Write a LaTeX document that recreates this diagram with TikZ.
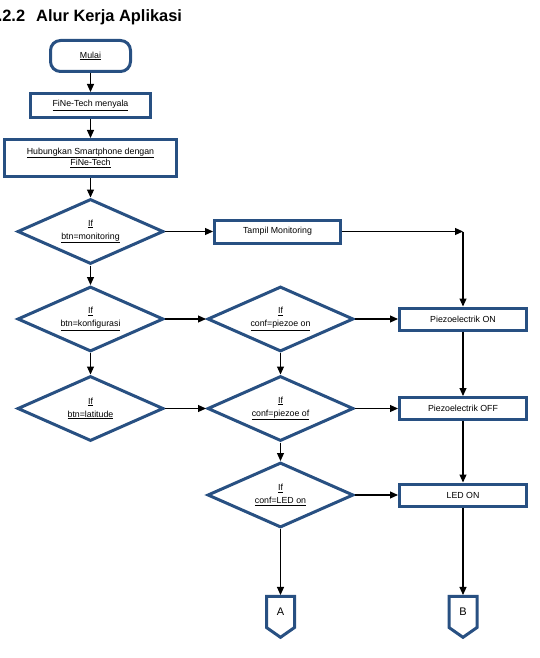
\documentclass[tikz,border=0pt]{standalone}
\usepackage{fontspec}
\setmainfont{Liberation Sans}
\usepackage{tikz}
\usetikzlibrary{positioning,arrows.meta,shapes.geometric,shapes.symbols}
\definecolor{flowblue}{RGB}{40,80,130}

\begin{document}
\begin{tikzpicture}[x=1pt, y=-1pt,
    boxline/.style={draw=flowblue, line width=3pt, fill=white, inner sep=2pt, align=center, font=\fontsize{8.8}{11.5}\selectfont},
    startnode/.style={boxline, rounded corners=10pt, minimum width=80pt, minimum height=31pt},
    procnode/.style={boxline, minimum height=22pt},
    decnode/.style={boxline, diamond, aspect=2.3, inner sep=0pt, minimum width=146pt, minimum height=65pt, font=\fontsize{8.8}{13}\selectfont},
    pagenode/.style={boxline, signal, signal to=south, signal from=nowhere, signal pointer angle=110, minimum width=28pt, minimum height=35pt, font=\fontsize{11}{13}\selectfont},
    flowline/.style={-{Triangle[length=8pt,width=7pt]}, line width=1.1pt, draw=black}
    ]
        \useasboundingbox (0,0) rectangle (539,658);
        \clip (0,0) rectangle (539,658);

        %Title
        \node[anchor=base west, inner sep=0pt, font=\fontsize{16.4}{20}\selectfont\bfseries]
            (judul) at (-11.5,22) {2.2.2\hspace{11pt}Alur Kerja Aplikasi};

        %Nodes
        \node[startnode]
            (mulai)   at (90.5,56)    {\underline{Mulai}};
        \node[procnode, minimum width=120pt, minimum height=24pt]
            (nyala)   at (90.5,105.5) {\underline{FiNe-Tech menyala}};
        \node[procnode, minimum width=172pt, minimum height=37pt]
            (hubung)  at (90.5,158)   {\underline{Hubungkan Smartphone dengan}\\\underline{FiNe-Tech}};
        \node[decnode]
            (ifmon)   at (90.5,231.5) {\underline{If}\\\underline{btn=monitoring}};
        \node[procnode, minimum width=126pt, minimum height=23pt]
            (tampil)  at (277.5,231.5) {Tampil Monitoring};
        \node[decnode]
            (ifkonf)  at (90.5,319)   {\underline{If}\\\underline{btn=konfigurasi}};
        \node[decnode]
            (iflat)   at (90.5,408.5) {\underline{If}\\\underline{btn=latitude}};
        \node[decnode]
            (ifpon)   at (280.5,319)  {\underline{If}\\\underline{conf=piezoe on}};
        \node[decnode]
            (ifpof)   at (280.5,408.5) {\underline{If}\\\underline{conf=piezoe of}};
        \node[decnode]
            (ifled)   at (280.5,495)  {\underline{If}\\\underline{conf=LED on}};
        \node[procnode, minimum width=127pt]
            (pon)     at (463,319)    {Piezoelectrik ON};
        \node[procnode, minimum width=127pt]
            (pof)     at (463,408.5)  {Piezoelectrik OFF};
        \node[procnode, minimum width=127pt]
            (ledon)   at (463,495)    {LED ON};
        \node[pagenode]
            (conA)    at (280.5,612)  {A};
        \node[pagenode]
            (conB)    at (463,612)    {B};
        \coordinate (belok) at (pon.north |- tampil.east);

        %Lines
        \draw[flowline] (mulai.south) -- (nyala.north);
        \draw[flowline] (nyala.south) -- (hubung.north);
        \draw[flowline] (hubung.south) -- (ifmon.north);
        \draw[flowline] (ifmon.east) -- (tampil.west);
        \draw[flowline] (tampil.east) -- (belok);
        \draw[flowline] (belok) -- (pon.north);
        \draw[flowline] (ifmon.south) -- (ifkonf.north);
        \draw[flowline] (ifkonf.east) -- (ifpon.west);
        \draw[flowline] (ifkonf.south) -- (iflat.north);
        \draw[flowline] (iflat.east) -- (ifpof.west);
        \draw[flowline] (ifpon.east) -- (pon.west);
        \draw[flowline] (ifpon.south) -- (ifpof.north);
        \draw[flowline] (ifpof.east) -- (pof.west);
        \draw[flowline] (ifpof.south) -- (ifled.north);
        \draw[flowline] (ifled.east) -- (ledon.west);
        \draw[flowline] (pon.south) -- (pof.north);
        \draw[flowline] (pof.south) -- (ledon.north);
        \draw[flowline] (ifled.south) -- (conA.north);
        \draw[flowline] (ledon.south) -- (conB.north);
    \end{tikzpicture}
\end{document}
